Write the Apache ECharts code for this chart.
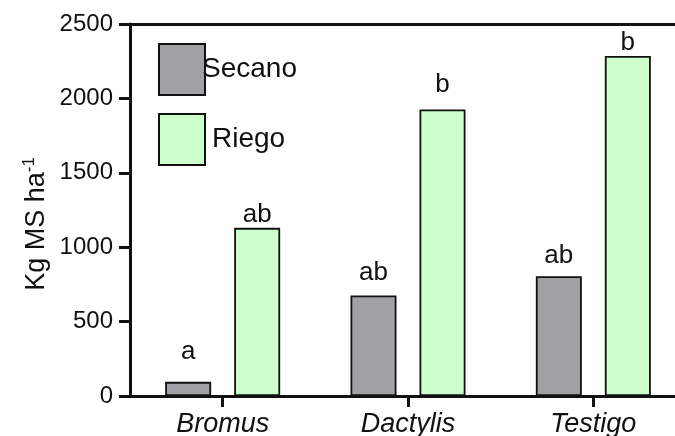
<!DOCTYPE html>
<html>
<head>
<meta charset="utf-8">
<script src="https://cdn.jsdelivr.net/npm/echarts@6/dist/echarts.min.js"></script>
<style>
  html, body { margin: 0; padding: 0; background: #ffffff; }
  #chart { width: 675px; height: 436px; }
</style>
</head>
<body>
<div id="chart"></div>
<script>
// Forage dry-matter yield (kg MS/ha) per cover, dryland vs irrigated
const categories = ['Bromus', 'Dactylis', 'Testigo'];
const secano = [95, 675, 805];
const riego = [1130, 1925, 2285];
const secanoLetters = ['a', 'ab', 'ab'];
const riegoLetters = ['ab', 'b', 'b'];
const yMin = 0;
const yMax = 2500;
const yStep = 500;

// pixel gap between each significance letter and its bar
const secanoLetterGap = [17, 10, 7];
const riegoLetterGap = [0, 12, 0];

const FONT = '"Liberation Sans", Arial, Helvetica, sans-serif';
const INK = '#111111';

function withLetters(values, letters, gaps) {
  return values.map((v, i) => ({
    value: v,
    label: { formatter: letters[i], distance: gaps[i] }
  }));
}

const chart = echarts.init(document.getElementById('chart'), null, { renderer: 'canvas' });

const barLabel = {
  show: true,
  position: 'top',
  color: INK,
  fontFamily: FONT,
  fontSize: 26
};

chart.setOption({
  animation: false,
  backgroundColor: '#ffffff',
  grid: {
    left: 130,
    top: 24,
    width: 556,
    bottom: 40,
    containLabel: false,
    outerBoundsMode: 'none'
  },
  legend: {
    orient: 'vertical',
    left: 153,
    top: 38,
    itemWidth: 46,
    itemHeight: 51,
    itemGap: 17,
    icon: 'rect',
    textStyle: { color: INK, fontFamily: FONT, fontSize: 28 },
    data: [
      { name: 'Secano', textStyle: { padding: [0, 0, 4, -8] } },
      { name: 'Riego', textStyle: { padding: [0, 0, 0, 2] } }
    ]
  },
  xAxis: [
    {
      type: 'category',
      data: categories,
      position: 'bottom',
      axisLine: { show: true, lineStyle: { color: INK, width: 3 } },
      axisTick: { show: true, alignWithLabel: true, length: 11, lineStyle: { color: INK, width: 3 } },
      axisLabel: {
        color: INK,
        fontFamily: FONT,
        fontSize: 27,
        fontStyle: 'italic',
        margin: 15
      },
      splitLine: { show: false }
    },
    {
      type: 'category',
      data: categories,
      position: 'top',
      axisLine: { show: true, lineStyle: { color: INK, width: 3 } },
      axisTick: { show: false },
      axisLabel: { show: false },
      splitLine: { show: false }
    }
  ],
  yAxis: {
    type: 'value',
    min: yMin,
    max: yMax,
    interval: yStep,
    axisLine: { show: true, lineStyle: { color: INK, width: 3 } },
    axisTick: { show: true, length: 11, lineStyle: { color: INK, width: 3 } },
    axisLabel: {
      color: INK,
      fontFamily: FONT,
      fontSize: 24,
      margin: 17,
      formatter: (v) => String(v)
    },
    splitLine: { show: false }
  },
  graphic: [
    {
      type: 'text',
      x: 37,
      y: 224,
      rotation: Math.PI / 2,
      style: {
        text: '{m|Kg MS ha}{s|-1}',
        align: 'center',
        verticalAlign: 'middle',
        fill: INK,
        rich: {
          m: { fontFamily: FONT, fontSize: 27, fill: INK },
          s: { fontFamily: FONT, fontSize: 17, fill: INK, padding: [0, 0, 16, 0] }
        }
      }
    }
  ],
  series: [
    {
      name: 'Secano',
      type: 'bar',
      xAxisIndex: 0,
      barWidth: 46,
      barGap: '50%',
      itemStyle: { color: '#a1a1a5', borderColor: '#111111', borderWidth: 1.8 },
      label: barLabel,
      data: withLetters(secano, secanoLetters, secanoLetterGap)
    },
    {
      name: 'Riego',
      type: 'bar',
      xAxisIndex: 0,
      barWidth: 46,
      barGap: '50%',
      itemStyle: { color: '#ccffcc', borderColor: '#111111', borderWidth: 1.8 },
      label: barLabel,
      data: withLetters(riego, riegoLetters, riegoLetterGap)
    }
  ]
});
</script>
</body>
</html>
